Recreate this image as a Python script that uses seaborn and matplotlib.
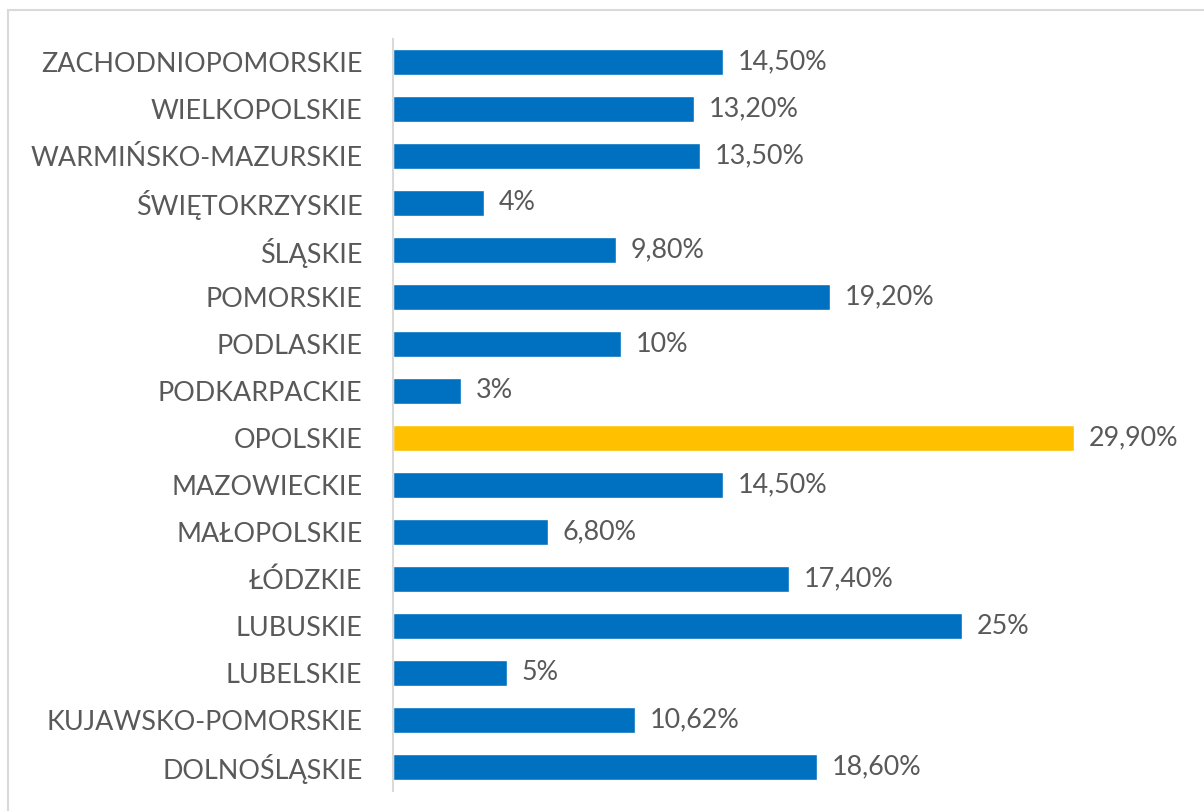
import matplotlib
matplotlib.use("Agg")
import matplotlib.pyplot as plt
import seaborn as sns
import pandas as pd
from matplotlib.patches import Rectangle

categories = ["ZACHODNIOPOMORSKIE", "WIELKOPOLSKIE", "WARMIŃSKO-MAZURSKIE", "ŚWIĘTOKRZYSKIE",
              "ŚLĄSKIE", "POMORSKIE", "PODLASKIE", "PODKARPACKIE", "OPOLSKIE", "MAZOWIECKIE",
              "MAŁOPOLSKIE", "ŁÓDZKIE", "LUBUSKIE", "LUBELSKIE", "KUJAWSKO-POMORSKIE", "DOLNOŚLĄSKIE"]
values = [14.5, 13.2, 13.5, 4.0, 9.8, 19.2, 10.0, 3.0, 29.9, 14.5, 6.8, 17.4, 25.0, 5.0, 10.62, 18.6]
value_labels = ["14,50%", "13,20%", "13,50%", "4%", "9,80%", "19,20%", "10%", "3%", "29,90%",
                "14,50%", "6,80%", "17,40%", "25%", "5%", "10,62%", "18,60%"]
highlight = "OPOLSKIE"

sns.set_style("white")
plt.rcParams["font.family"] = ["Lato", "DejaVu Sans"]

df = pd.DataFrame({"region": categories, "value": values})
palette = {c: ("#FFC000" if c == highlight else "#0070C0") for c in categories}

fig = plt.figure(figsize=(12.04, 8.11), dpi=100)
ax = fig.add_axes([393 / 1204, 20.5 / 811, 797 / 1204, 752 / 811])

sns.barplot(data=df, x="value", y="region", hue="region", palette=palette, order=categories,
            hue_order=categories, legend=False, width=0.57, saturation=1, ax=ax, orient="h")

ax.set_xlim(0, 35)
ax.set_ylim(len(categories) - 0.5, -0.5)
ax.set_xlabel("")
ax.set_ylabel("")
ax.set_xticks([])
for s in ["top", "right", "bottom"]:
    ax.spines[s].set_visible(False)
ax.spines["left"].set_color("#D9D9D9")
ax.spines["left"].set_linewidth(1.5)
ax.tick_params(axis="y", length=0, pad=22, labelsize=19.4, labelcolor="#595959")

for cont in ax.containers:
    for bar in cont:
        idx = int(round(bar.get_y() + bar.get_height() / 2))
        ax.text(bar.get_width() + 0.65, idx, value_labels[idx], va="center", ha="left",
                fontsize=19.4, color="#595959")

fig.patches.append(Rectangle((8 / 1204, -0.1), 1.2, (811 - 10) / 811 + 0.1,
                             transform=fig.transFigure, fill=False, edgecolor="#D9D9D9",
                             linewidth=1.5, figure=fig))

fig.savefig("out.png", dpi=100)
